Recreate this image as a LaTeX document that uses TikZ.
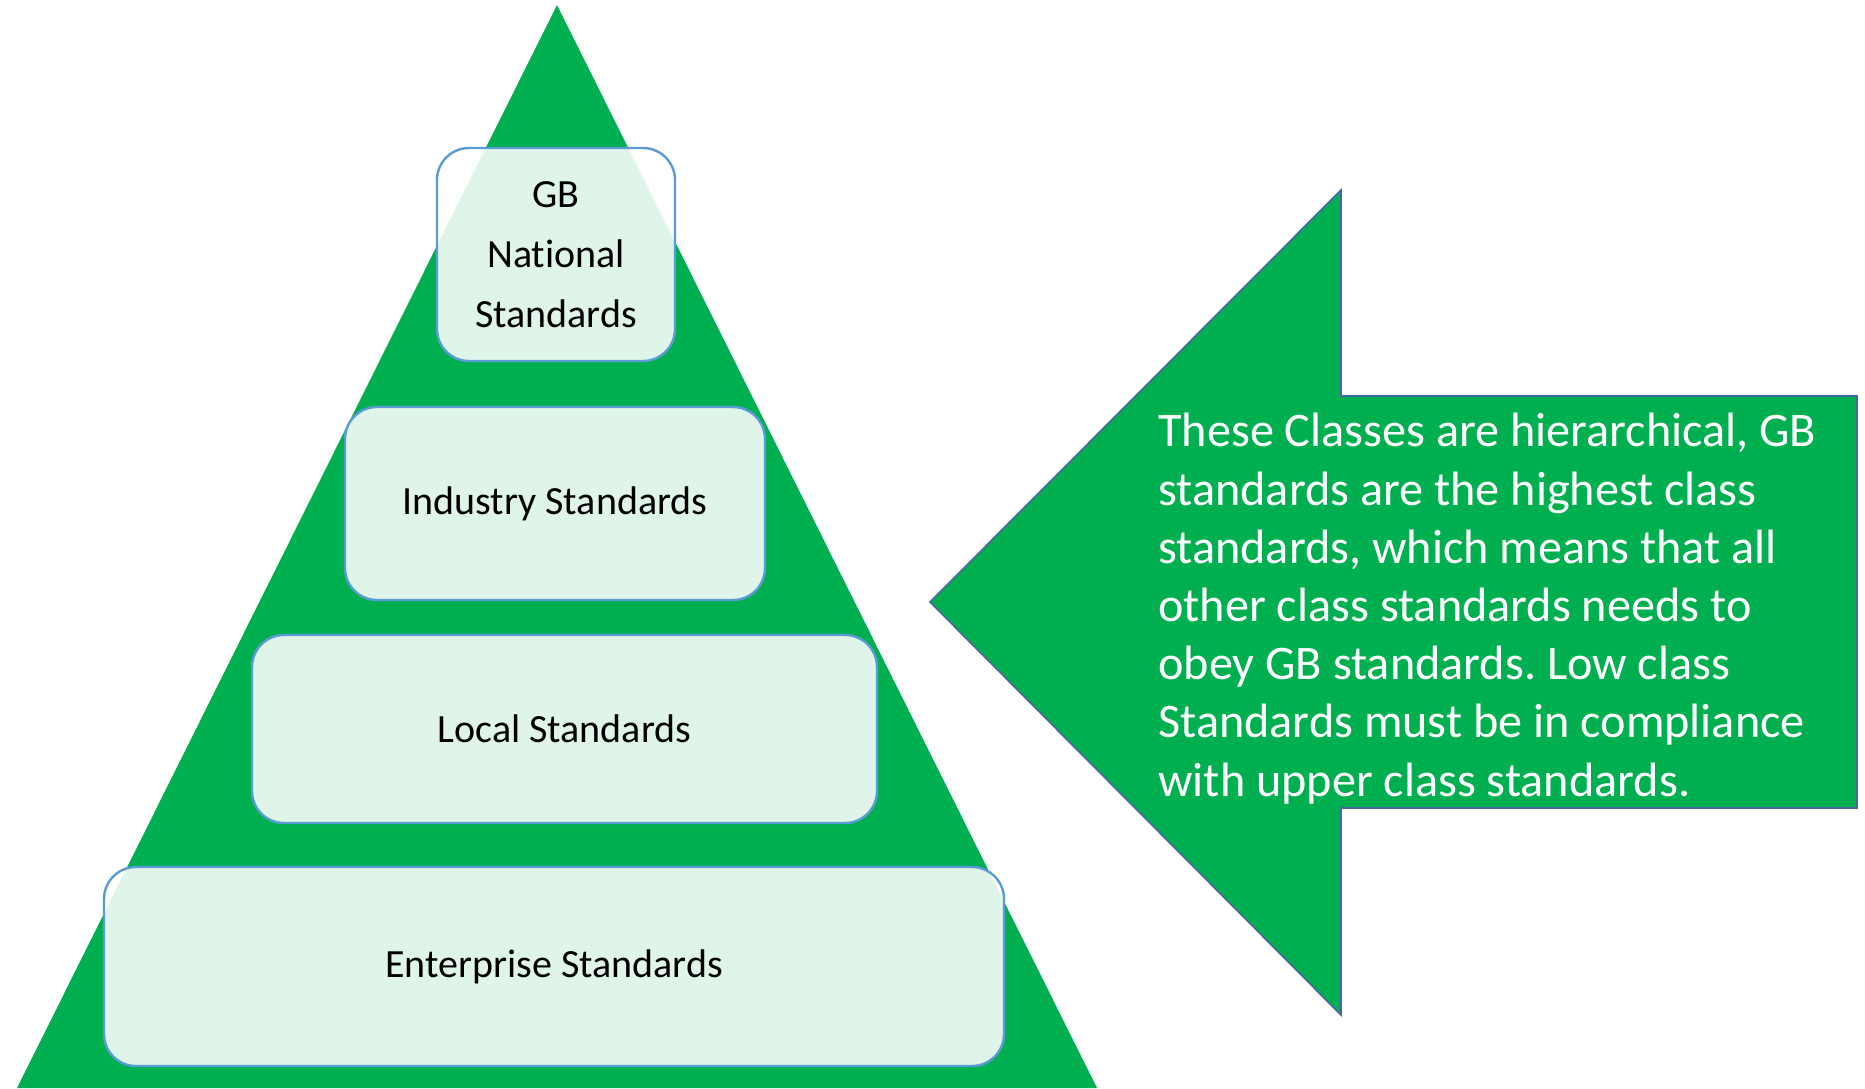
\documentclass[tikz,border=0pt]{standalone}
\usepackage{fontspec}
\setmainfont{Carlito}[Ligatures=NoCommon]
\definecolor{pyrgreen}{HTML}{00B050}
\definecolor{boxblue}{HTML}{5B9BD5}
\definecolor{arrowblue}{RGB}{72,102,160}
\frenchspacing
\begin{document}
\begin{tikzpicture}[x=0.5pt, y=-0.5pt, line join=round, line cap=round,
	level/.style={draw=boxblue, line width=1.2pt, fill=white, fill opacity=0.88, text opacity=1,
		rounded corners=16pt, align=center, inner sep=0pt, font=\fontsize{20}{30}\selectfont}]
	\def\apx{557} \def\apy{5}   % top of the pyramid
	\def\tipx{930} \def\tipy{602} % point of the arrow
	\useasboundingbox (0,0) rectangle (1865,1088);
	% pyramid
	\fill[pyrgreen] (\apx,\apy) -- (1097,1088) -- (17,1088) -- cycle;
	% levels
	\node[level, minimum width=119pt, minimum height=106.5pt] (gb) at (556,254.5) {GB\\National\\Standards};
	\node[level, minimum width=210pt, minimum height=96.5pt] (industry) at (555,503.5) {Industry Standards};
	\node[level, minimum width=312.5pt, minimum height=94pt] (local) at (564.5,729) {Local Standards};
	\node[level, minimum width=450pt, minimum height=99.5pt] (enterprise) at (554,966.5) {Enterprise Standards};
	% arrow
	\filldraw[fill=pyrgreen, draw=arrowblue, line width=0.8pt, line cap=butt, line join=miter]
		(\tipx,\tipy) -- (1341,190) -- (1341,396) -- (1857,396) -- (1857,808) -- (1341,808) -- (1341,1015) -- cycle;
	\node[anchor=north west, text=white, align=left, inner sep=0pt,
		font=\fontsize{24.1}{29.1}\selectfont] (note) at (1158,413)
		{These Classes are hierarchical, GB\\
		standards are the highest class\\
		standards, which means that all\\
		other class standards needs to\\
		obey GB standards. Low class\\
		Standards must be in compliance\\
		with upper class standards.};
\end{tikzpicture}
\end{document}
